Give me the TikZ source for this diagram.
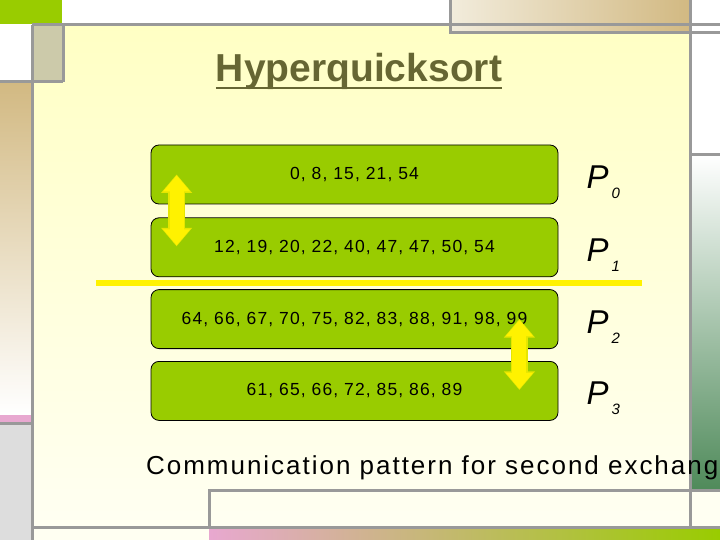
\documentclass[tikz,border=0pt]{standalone}
\usepackage{fontspec}
\setmainfont{Liberation Sans}
\newfontfamily\numfont[LetterSpace=6.3]{Liberation Sans}
\newfontfamily\capfont[LetterSpace=7.6]{Liberation Sans}
\usetikzlibrary{positioning,arrows.meta}
\definecolor{boxgreen}{HTML}{99CC00}
\definecolor{gridgray}{HTML}{999999}
\definecolor{titleolive}{HTML}{666633}
\definecolor{paletop}{HTML}{FFFFC4}
\definecolor{palebot}{HTML}{FFFFF2}
\definecolor{beige}{HTML}{CCCAAA}
\definecolor{tan}{HTML}{D2B982}
\definecolor{pinkbar}{HTML}{E8A8D0}
\definecolor{lightgray}{HTML}{DDDDDD}
\definecolor{deepgreen}{HTML}{4F8A5A}
\definecolor{sand}{HTML}{F2ECDC}
\definecolor{arrowedge}{HTML}{E6E600}
\newcommand\psub[1]{\kern3pt\raisebox{-10pt}{\fontsize{15}{15}\selectfont #1}}

\begin{document}
\begin{tikzpicture}[x=1pt,y=-1pt,
	frame/.style={draw=gridgray,line width=3pt},
	procbox/.style={draw=black,line width=0.8pt,fill=boxgreen,rounded corners=8pt,
		minimum width=407pt,minimum height=59pt,font=\numfont\fontsize{17.5}{20}\selectfont},
	plabel/.style={anchor=base west,inner sep=0pt,font=\itshape\fontsize{33}{36}\selectfont},
	swapedge/.style={arrowedge,line width=16.5pt,{Triangle[width=30pt,length=18.5pt]}-{Triangle[width=30pt,length=18.5pt]}},
	swap/.style={yellow,line width=14pt,{Triangle[width=26pt,length=16pt]}-{Triangle[width=26pt,length=16pt]}}]
\clip (0,0) rectangle (720,540);
\fill[white] (0,0) rectangle (720,540);
\shade[top color=paletop,bottom color=palebot] (32,25) rectangle (690,527);
\fill[palebot] (32,527) rectangle (209,540);
\fill[palebot] (690,490) rectangle (720,527);
\shade[left color=pinkbar,right color=boxgreen] (209,528) rectangle (720,540);
\shade[top color=white,bottom color=deepgreen] (690,155) rectangle (720,490);
\shade[left color=sand,right color=tan] (450,0) rectangle (690,33);
\fill[boxgreen] (0,0) rectangle (62,24);
\fill[beige] (32,25) rectangle (63,82);
\shade[top color=tan,bottom color=white] (0,82) rectangle (31,415);
\fill[pinkbar] (0,415) rectangle (31,423);
\fill[lightgray] (0,423) rectangle (31,540);
\draw[frame] (32,25) -- (720,25);
\draw[frame] (450,0) -- (450,33) -- (720,33);
\draw[frame] (32,25) -- (32,540);
\draw[frame] (63,25) -- (63,82);
\draw[frame] (690,0) -- (690,527);
\draw[frame] (0,82) -- (63,82);
\draw[frame] (0,423) -- (32,423);
\draw[frame] (690,155) -- (720,155);
\draw[frame] (209,527) -- (209,490) -- (720,490);
\draw[frame] (32,527) -- (720,527);

\node[font=\bfseries\fontsize{39}{44}\selectfont,text=titleolive,inner sep=0pt,anchor=base] (title) at (359,82) {Hyperquicksort};
\draw[titleolive,line width=2.5pt] ([yshift=-6pt]title.base west) -- ([yshift=-6pt]title.base east);

\node[procbox] (box0) at (354.5,174.5) {0, 8, 15, 21, 54};
\node[procbox,below=13pt of box0] (box1) {12, 19, 20, 22, 40, 47, 47, 50, 54};
\node[procbox,below=12pt of box1] (box2) {64, 66, 67, 70, 75, 82, 83, 88, 91, 98, 99};
\node[procbox,below=12pt of box2] (box3) {61, 65, 66, 72, 85, 86, 89};

\node[plabel] (p0) at ([xshift=28pt,yshift=-14pt]box0.east) {P\psub{0}};
\node[plabel] (p1) at ([xshift=28pt,yshift=-14pt]box1.east) {P\psub{1}};
\node[plabel] (p2) at ([xshift=28pt,yshift=-14pt]box2.east) {P\psub{2}};
\node[plabel] (p3) at ([xshift=28pt,yshift=-14pt]box3.east) {P\psub{3}};

\coordinate (cutL) at (96,283);
\coordinate (cutR) at (642,283);
\draw[yellow,line width=6pt] (cutL) -- (cutR);

\coordinate (a0) at ([xshift=26pt]box0.west);
\coordinate (a1) at ([xshift=26pt,yshift=1pt]box1.west);
\coordinate (a2) at ([xshift=-39pt]box2.east);
\coordinate (a3) at ([xshift=-39pt,yshift=1pt]box3.east);
\draw[swapedge] (a0) -- (a1);
\draw[swap] ([yshift=-1pt]a0) -- ([yshift=1pt]a1);
\draw[swapedge] (a2) -- (a3);
\draw[swap] ([yshift=-1pt]a2) -- ([yshift=1pt]a3);

\node[anchor=base west,inner sep=0pt,font=\capfont\fontsize{26}{30}\selectfont] (caption) at (146,474) {Communication pattern for second exchang};
\end{tikzpicture}
\end{document}
